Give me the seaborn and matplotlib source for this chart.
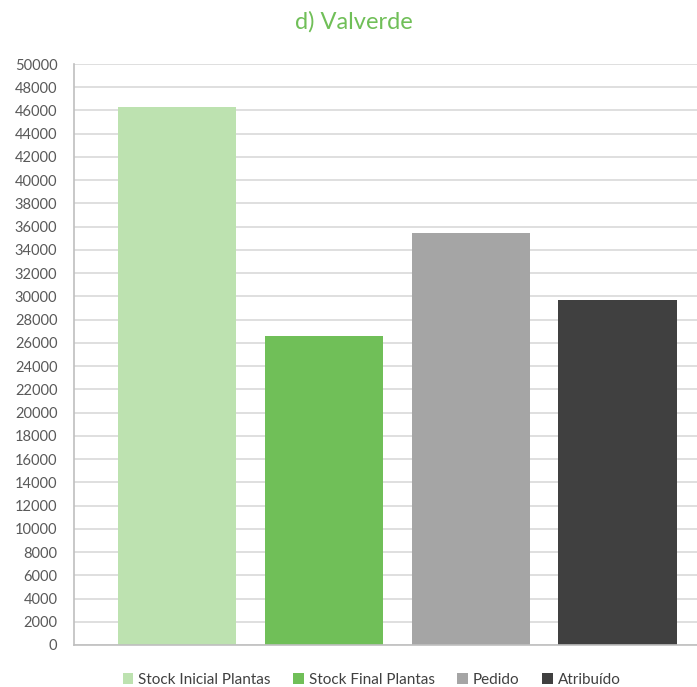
import matplotlib
matplotlib.use("Agg")
import matplotlib.pyplot as plt
from matplotlib.patches import Patch
import seaborn as sns
import pandas as pd

# Plant stock and allocation figures for Valverde
categories = ["Stock Inicial Plantas", "Stock Final Plantas", "Pedido", "Atribuído"]
values = [46300, 26600, 35450, 29650]
colors = ["#BDE2B0", "#70BF58", "#A5A5A5", "#404040"]
y_ticks = list(range(0, 50001, 2000))

sns.set_theme(style="white")
plt.rcParams["font.family"] = ["Lato", "DejaVu Sans"]

df = pd.DataFrame({"categoria": categories, "valor": values})

fig = plt.figure(figsize=(6.97, 6.87), dpi=100)
ax = fig.add_axes([74 / 697, 42 / 687, 1 - 74 / 697, (645 - 64) / 687])

sns.barplot(data=df, x="categoria", y="valor", hue="categoria",
            palette=colors, width=0.805, dodge=False, legend=False,
            saturation=1, linewidth=0, edgecolor="none", ax=ax, zorder=3)

ax.set_xlim(-0.702, 3.542)
ax.set_ylim(0, 50000)
ax.set_yticks(y_ticks)
ax.set_yticklabels([str(t) for t in y_ticks])
ax.set_xticks([])
ax.set_xlabel("")
ax.set_ylabel("")

ax.grid(axis="y", color="#D9D9D9", linewidth=1.2, zorder=0)
ax.grid(axis="x", visible=False)
for side in ["top", "right"]:
    ax.spines[side].set_visible(False)
for side in ["left", "bottom"]:
    ax.spines[side].set_color("#BFBFBF")
    ax.spines[side].set_linewidth(1.2)
    ax.spines[side].set_zorder(4)

ax.tick_params(axis="y", length=0, pad=12, labelsize=10.5, labelcolor="#595959")

fig.text(0.507, 1 - 22 / 687, "d) Valverde", ha="center", va="center",
         fontsize=17, color="#70BF58")

handles = [Patch(facecolor=c, edgecolor="none") for c in colors]
fig.legend(handles, categories, loc="center", bbox_to_anchor=(0.533, 1 - 680 / 687),
           ncol=4, frameon=False, fontsize=11, handlelength=0.7, handleheight=0.7,
           handletextpad=0.3, columnspacing=1.5, labelcolor="#404040")

fig.savefig("out.png", dpi=100)
